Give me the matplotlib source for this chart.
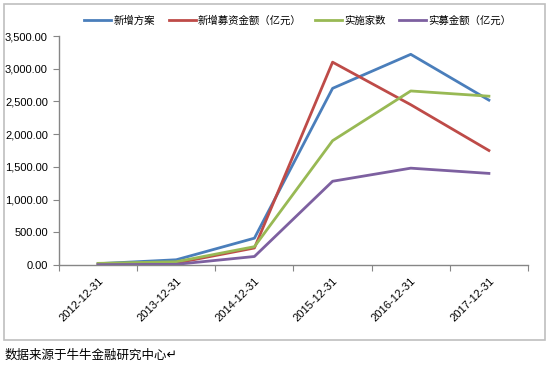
import matplotlib
matplotlib.use("Agg")
import matplotlib.pyplot as plt
from matplotlib.patches import Rectangle
from matplotlib.ticker import FuncFormatter, FixedLocator

plt.rcParams['font.family'] = ['Noto Sans CJK SC', 'DejaVu Sans']

categories = ["2012-12-31", "2013-12-31", "2014-12-31", "2015-12-31", "2016-12-31", "2017-12-31"]
new_plans = [20, 80, 410, 2700, 3220, 2520]
new_raise = [10, 30, 260, 3100, 2450, 1750]
implemented = [25, 50, 280, 1900, 2660, 2580]
actual_raise = [5, 10, 130, 1280, 1480, 1400]
series_names = ["新增方案", "新增募资金额（亿元）", "实施家数", "实募金额（亿元）"]
colors = ["#4a7ebb", "#be4b48", "#98b954", "#7d60a0"]
yticks = [0, 500, 1000, 1500, 2000, 2500, 3000, 3500]

fig = plt.figure(figsize=(5.5, 3.68), dpi=100)
fig.patches.append(Rectangle((4/550, 1-340/368), 541/550, 336/368, transform=fig.transFigure,
                             fill=False, edgecolor="#bfbfbf", linewidth=1.2))
ax = fig.add_axes([59/550, 1-265/368, 469/550, 229/368])

x = list(range(len(categories)))
for vals, name, c in zip([new_plans, new_raise, implemented, actual_raise], series_names, colors):
    ax.plot(x, vals, color=c, linewidth=2.0, label=name)

ax.set_xlim(-0.5, len(categories) - 0.5)
ax.set_ylim(0, 3500)
ax.yaxis.set_major_locator(FixedLocator(yticks))
ax.yaxis.set_major_formatter(FuncFormatter(lambda v, p: f"{v:,.2f}"))
ax.set_xticks([i - 0.5 for i in range(len(categories) + 1)])
ax.set_xticklabels([])
ax.set_xticks(x, minor=True)
ax.set_xticklabels(categories, minor=True, rotation=45, ha='right', va='top',
                   rotation_mode='anchor', fontsize=8, family=['Liberation Sans'])
ax.tick_params(axis='x', which='minor', length=0, pad=8)
ax.tick_params(axis='x', which='major', length=4, color="#868686", direction='out')
ax.tick_params(axis='y', length=4, color="#868686", labelsize=8, pad=4)
for lbl in ax.get_yticklabels():
    lbl.set_family(['Liberation Sans'])
for s in ['top', 'right']:
    ax.spines[s].set_visible(False)
for s in ['left', 'bottom']:
    ax.spines[s].set_color("#868686")
    ax.spines[s].set_linewidth(1.0)

fig.legend(loc='upper left', bbox_to_anchor=(75/550, 1-6/368), ncol=4, frameon=False,
           fontsize=7.5, handlelength=2.6, handletextpad=0.2, columnspacing=1.3)

fig.text(5/550, 1-355/368, "数据来源于牛牛金融研究中心↵", fontsize=9, va='center', ha='left')

fig.savefig("out.png", dpi=100)
